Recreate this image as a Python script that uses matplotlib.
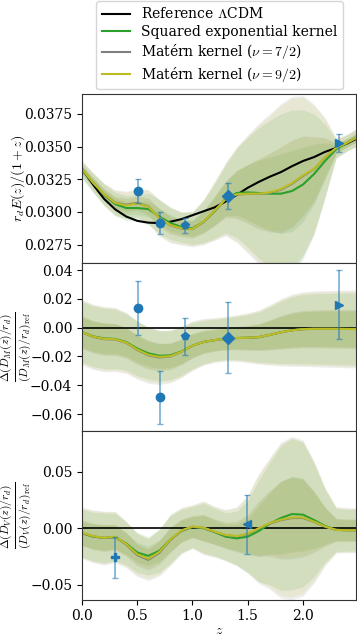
import numpy as np
import matplotlib
matplotlib.use("Agg")
import matplotlib.pyplot as plt

plt.rcParams['font.family'] = ['DejaVu Serif']
plt.rcParams['mathtext.fontset'] = 'cm'
plt.rcParams['font.size'] = 10

# ---------------- data ----------------
z_grid = [0.0, 0.1, 0.2, 0.3, 0.4, 0.5, 0.6, 0.7, 0.8, 0.9, 1.0, 1.1, 1.2,
          1.3, 1.4, 1.5, 1.6, 1.7, 1.8, 1.9, 2.0, 2.1, 2.2, 2.3, 2.4, 2.48]

# panel 1 : r_d E(z)/(1+z)
ref_lcdm = [0.03330, 0.03210, 0.03100, 0.03020, 0.02965, 0.02932, 0.02918, 0.02915,
            0.02925, 0.02945, 0.02975, 0.03005, 0.03035, 0.03080, 0.03130, 0.03185,
            0.03230, 0.03270, 0.03305, 0.03350, 0.03390, 0.03420, 0.03460, 0.03490,
            0.03525, 0.03559]
p1_se = [0.03320, 0.03225, 0.03130, 0.03060, 0.03030, 0.03030, 0.03022, 0.02965,
         0.02915, 0.02885, 0.02875, 0.02925, 0.03005, 0.03100, 0.03145, 0.03150,
         0.03145, 0.03140, 0.03140, 0.03160, 0.03210, 0.03290, 0.03390, 0.03480,
         0.03530, 0.03567]
p1_m72 = [0.03328, 0.03225, 0.03135, 0.03072, 0.03055, 0.03070, 0.03042, 0.02955,
          0.02898, 0.02872, 0.02868, 0.02922, 0.03008, 0.03098, 0.03133, 0.03138,
          0.03138, 0.03148, 0.03170, 0.03215, 0.03275, 0.03328, 0.03418, 0.03490,
          0.03530, 0.03567]
p1_m92 = [0.03330, 0.03225, 0.03135, 0.03070, 0.03050, 0.03065, 0.03040, 0.02955,
          0.02900, 0.02875, 0.02870, 0.02925, 0.03010, 0.03100, 0.03135, 0.03140,
          0.03140, 0.03150, 0.03175, 0.03220, 0.03280, 0.03330, 0.03420, 0.03490,
          0.03530, 0.03567]
p1_sig = [0.00030, 0.00035, 0.00040, 0.00045, 0.00048, 0.00050, 0.00060, 0.00065,
          0.00062, 0.00058, 0.00062, 0.00080, 0.00105, 0.00130, 0.00170, 0.00210,
          0.00250, 0.00280, 0.00305, 0.00310, 0.00285, 0.00230, 0.00140, 0.00035,
          0.00030, 0.00032]

# panel 2 : Delta(D_M/r_d)/(D_M/r_d)_ref
p2_se = [-0.0030, -0.0060, -0.0075, -0.0078, -0.0100, -0.0145, -0.0178, -0.0195,
         -0.0192, -0.0165, -0.0125, -0.0100, -0.0087, -0.0077, -0.0072, -0.0070,
         -0.0066, -0.0050, -0.0032, -0.0018, -0.0010, -0.0008, -0.0008, -0.0008,
         -0.0009, -0.0009]
p2_m72 = [-0.0032, -0.0064, -0.0080, -0.0082, -0.0106, -0.0155, -0.0192, -0.0207,
          -0.0200, -0.0168, -0.0125, -0.0098, -0.0086, -0.0077, -0.0072, -0.0070,
          -0.0065, -0.0050, -0.0032, -0.0018, -0.0010, -0.0008, -0.0008, -0.0008,
          -0.0009, -0.0009]
p2_m92 = [-0.0031, -0.0062, -0.0078, -0.0080, -0.0104, -0.0152, -0.0188, -0.0203,
          -0.0198, -0.0167, -0.0125, -0.0099, -0.0086, -0.0077, -0.0072, -0.0070,
          -0.0065, -0.0050, -0.0032, -0.0018, -0.0010, -0.0008, -0.0008, -0.0008,
          -0.0009, -0.0009]
p2_sig = [0.0105, 0.0105, 0.0105, 0.0103, 0.0098, 0.0094, 0.0090, 0.0087, 0.0085,
          0.0083, 0.0080, 0.0075, 0.0072, 0.0072, 0.0075, 0.0080, 0.0087, 0.0097,
          0.0108, 0.0116, 0.0120, 0.0122, 0.0123, 0.0124, 0.0125, 0.0125]

# panel 3 : Delta(D_V/r_d)/(D_V/r_d)_ref
p3_se = [-0.0045, -0.0075, -0.0085, -0.0080, -0.0135, -0.0215, -0.0245, -0.0200,
         -0.0100, -0.0025, 0.0010, 0.0000, -0.0035, -0.0075, -0.0090, -0.0075,
         -0.0025, 0.0040, 0.0090, 0.0125, 0.0120, 0.0072, 0.0020, -0.0015,
         -0.0018, -0.0018]
p3_m72 = [-0.0042, -0.0072, -0.0088, -0.0078, -0.0145, -0.0238, -0.0280, -0.0218,
          -0.0105, -0.0022, 0.0013, 0.0003, -0.0032, -0.0062, -0.0072, -0.0053,
          -0.0003, 0.0042, 0.0071, 0.0090, 0.0090, 0.0055, 0.0013, -0.0015,
          -0.0018, -0.0018]
p3_m92 = [-0.0040, -0.0070, -0.0085, -0.0075, -0.0140, -0.0230, -0.0270, -0.0210,
          -0.0100, -0.0020, 0.0015, 0.0005, -0.0030, -0.0060, -0.0070, -0.0050,
          0.0000, 0.0045, 0.0075, 0.0095, 0.0095, 0.0058, 0.0015, -0.0015,
          -0.0018, -0.0018]
p3_sig = [0.0105, 0.0108, 0.0110, 0.0105, 0.0095, 0.0088, 0.0085, 0.0095, 0.0105,
          0.0095, 0.0090, 0.0110, 0.0105, 0.0105, 0.0120, 0.0160, 0.0225, 0.0270,
          0.0320, 0.0335, 0.0320, 0.0250, 0.0160, 0.0095, 0.0092, 0.0092]

kernel_names = ['Squared exponential kernel', r'Matérn kernel ($\nu=7/2$)',
                r'Matérn kernel ($\nu=9/2$)']
kernel_colors = ['tab:green', 'tab:gray', 'tab:olive']
kernel_width = [1.0, 1.08, 1.05]

# data points
p1_z = [0.51, 0.706, 0.93, 1.317, 2.33]
p1_y = [0.03162, 0.02916, 0.02897, 0.03124, 0.03530]
p1_err = [0.00090, 0.00085, 0.00060, 0.00100, 0.00070]
p1_mk = ['o', 'o', 'p', 'D', '>']

p2_z = [0.51, 0.706, 0.93, 1.317, 2.33]
p2_y = [0.0135, -0.0484, -0.0060, -0.0069, 0.0160]
p2_err = [0.0186, 0.0182, 0.0128, 0.0247, 0.0242]
p2_mk = ['o', 'o', 'p', 'D', '>']

p3_z = [0.295, 1.491]
p3_y = [-0.0259, 0.0036]
p3_err = [0.0185, 0.0262]
p3_mk = ['P', '<']

# ---------------- figure ----------------
W, H = 357, 638
fig = plt.figure(figsize=(W / 100, H / 100), dpi=100)
left = 82 / W
width = 274 / W
tops = [94, 262.5, 431]
hgt = 168.5
axes = []
for t in tops:
    ax = fig.add_axes([left, 1 - (t + hgt) / H, width, hgt / H])
    axes.append(ax)

z = np.array(z_grid)
panels = [
    (axes[0], [p1_se, p1_m72, p1_m92], p1_sig),
    (axes[1], [p2_se, p2_m72, p2_m92], p2_sig),
    (axes[2], [p3_se, p3_m72, p3_m92], p3_sig),
]
for ax, means, sig in panels:
    sig = np.array(sig)
    for m, c, w in zip(means, kernel_colors, kernel_width):
        m = np.array(m)
        ax.fill_between(z, m - 2 * w * sig, m + 2 * w * sig, color=c, alpha=0.13, lw=0)
        ax.fill_between(z, m - w * sig, m + w * sig, color=c, alpha=0.13, lw=0)

line_ref, = axes[0].plot(z, ref_lcdm, color='black', lw=1.5, label=r'Reference $\Lambda$CDM')
axes[1].axhline(0, color='black', lw=1.2)
axes[2].axhline(0, color='black', lw=1.2)

handles = [line_ref]
for ax, means, sig in panels:
    for m, c, nm in zip(means, kernel_colors, kernel_names):
        h, = ax.plot(z, m, color=c, lw=1.5, label=nm)
        if ax is axes[0]:
            handles.append(h)

for ax, zz, yy, ee, mm in [(axes[0], p1_z, p1_y, p1_err, p1_mk),
                           (axes[1], p2_z, p2_y, p2_err, p2_mk),
                           (axes[2], p3_z, p3_y, p3_err, p3_mk)]:
    for a, b, e, mk in zip(zz, yy, ee, mm):
        ax.errorbar(a, b, yerr=e, fmt=mk, color='tab:blue', ms=6,
                    ecolor=(0.12, 0.47, 0.71, 0.6), elinewidth=1.2, capsize=2, capthick=1,
                    zorder=5)

for ax in axes:
    ax.set_xlim(0, 2.48)
    for s in ax.spines.values():
        s.set_edgecolor('0.2')
axes[0].set_ylim(0.02613, 0.03903)
axes[1].set_ylim(-0.0718, 0.0453)
axes[2].set_ylim(-0.0631, 0.086)

axes[0].set_yticks([0.0275, 0.0300, 0.0325, 0.0350, 0.0375])
axes[0].set_yticklabels(['0.0275', '0.0300', '0.0325', '0.0350', '0.0375'])
axes[1].set_yticks([-0.06, -0.04, -0.02, 0.0, 0.02, 0.04])
axes[1].set_yticklabels(['−0.06', '−0.04', '−0.02', '0.00', '0.02', '0.04'])
axes[2].set_yticks([-0.05, 0.0, 0.05])
axes[2].set_yticklabels(['−0.05', '0.00', '0.05'])
axes[2].set_xticks([0.0, 0.5, 1.0, 1.5, 2.0])
axes[2].set_xticklabels(['0.0', '0.5', '1.0', '1.5', '2.0'])
for ax in axes[:2]:
    ax.set_xticks([0.0, 0.5, 1.0, 1.5, 2.0])
    ax.tick_params(labelbottom=False)

axes[0].set_ylabel(r'$r_d E(z)/(1+z)$', fontsize=10)
axes[1].set_ylabel(r'$\frac{\Delta(D_M(z)/r_d)}{(D_M(z)/r_d)_{\rm ref}}$', fontsize=12)
axes[2].set_ylabel(r'$\frac{\Delta(D_V(z)/r_d)}{(D_V(z)/r_d)_{\rm ref}}$', fontsize=12)
axes[2].set_xlabel(r'$z$', labelpad=0)
for ax, xc in zip(axes, [18.0, 16.5, 16.5]):
    ax.yaxis.label.set_va('center')
    ax.yaxis.set_label_coords((xc - 82) / 274, 0.5)

fig.legend(handles=handles, loc='upper center', bbox_to_anchor=(219.5 / W, 1.0 + 6 / H),
           fontsize=10, framealpha=0.8, edgecolor='0.8', labelspacing=0.25)

fig.savefig('out.png', dpi=100)
